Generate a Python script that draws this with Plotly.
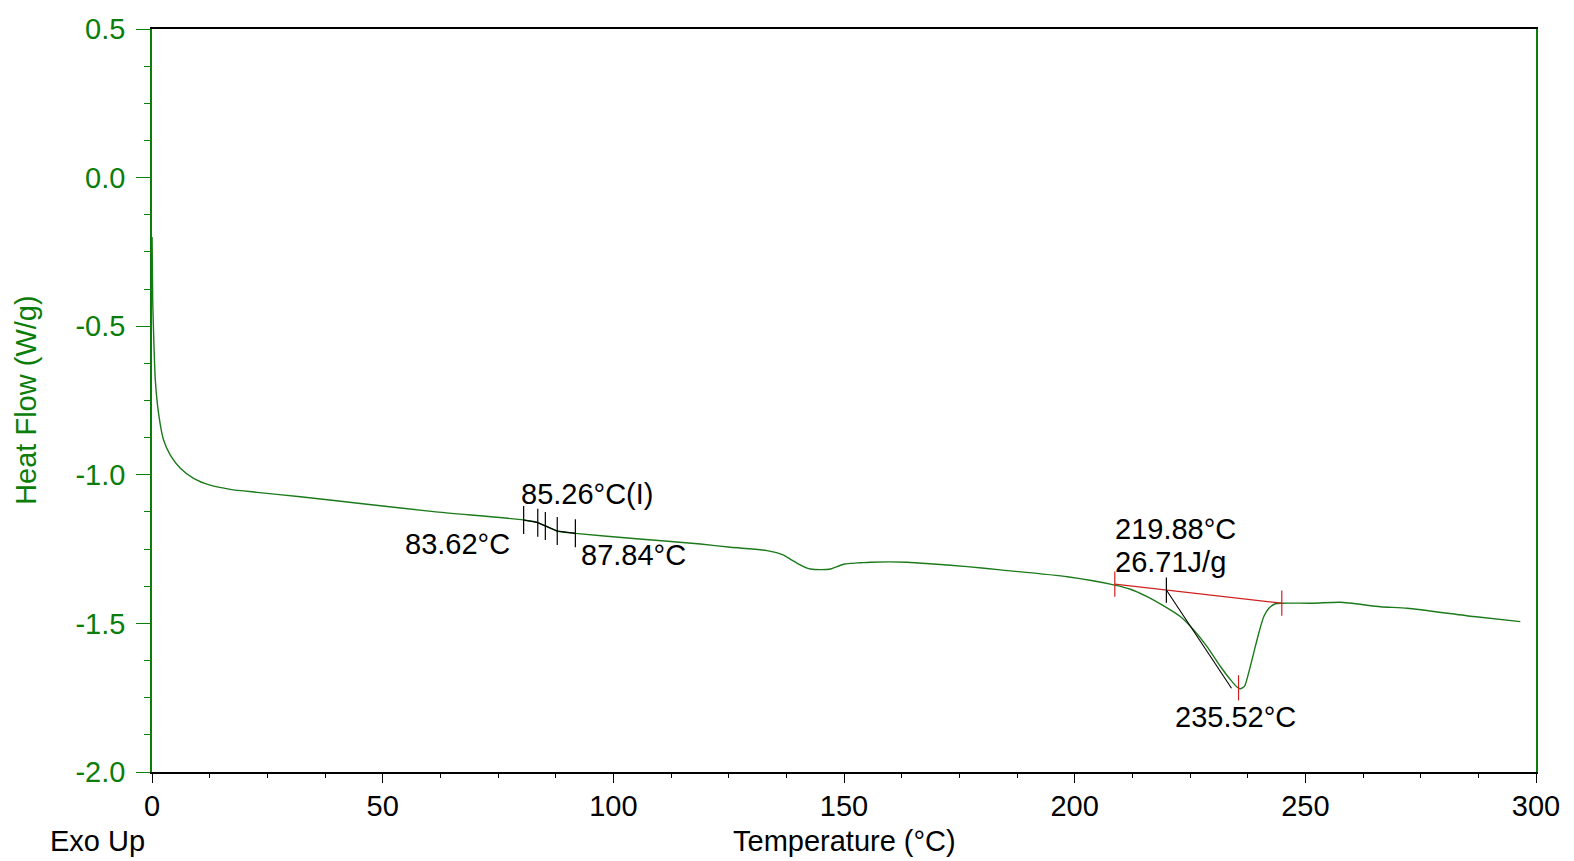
import numpy as np
import plotly.graph_objects as go

# DSC heat flow curve (temperature in °C, heat flow in W/g)
temp = [0.02, 0.15, 0.35, 0.72, 1.43, 2.51, 3.97, 6.14, 9.02, 12.6, 16.97, 22.76,
        32.15, 46.6, 61.05, 80.56, 83.47, 85.27, 87.8, 91.77, 105.0, 118.9, 125.4,
        133.3, 136.9, 138.7, 140.5, 142.0, 142.7, 145.0, 147.1, 148.5, 149.9, 151.4,
        153.6, 155.7, 163.7, 169.4, 176.7, 183.9, 198.4, 208.7, 212.1, 215.7, 219.3,
        222.9, 225.8, 228.7, 231.6, 233.8, 235.2, 235.9, 236.8, 237.7, 238.8, 239.9,
        241.0, 242.1, 243.5, 244.9, 251.8, 257.6, 266.3, 272.1, 286.5, 296.6]
heat_flow = [-0.20, -0.41, -0.525, -0.682, -0.794, -0.883, -0.934, -0.978, -1.012, -1.035,
             -1.049, -1.059, -1.074, -1.099, -1.124, -1.152, -1.160, -1.172, -1.189, -1.197,
             -1.215, -1.233, -1.244, -1.255, -1.270, -1.287, -1.303, -1.314, -1.317, -1.319,
             -1.317, -1.309, -1.301, -1.298, -1.296, -1.294, -1.294, -1.300, -1.309, -1.320,
             -1.343, -1.371, -1.385, -1.410, -1.441, -1.477, -1.522, -1.578, -1.645, -1.690,
             -1.714, -1.720, -1.712, -1.667, -1.600, -1.533, -1.477, -1.449, -1.434, -1.432,
             -1.432, -1.429, -1.444, -1.449, -1.477, -1.494]

# glass transition analysis markers
tg_marks = [80.56, 83.62, 85.26, 87.84, 91.77]
tg_range = [80.56, 91.77]

# melting peak analysis
base_x = [208.7, 244.9]
base_y = [-1.368, -1.432]
onset_x = 219.88
peak_x = 235.52
tangent_end = [234.0, -1.718]

x_ticks = [0, 50, 100, 150, 200, 250, 300]
y_ticks = [0.5, 0.0, -0.5, -1.0, -1.5, -2.0]
y_ticktext = ["0.5", "0.0", "-0.5", "-1.0", "-1.5", "-2.0"]

FONT = "Arial, Liberation Sans, sans-serif"
FS = 29
GREEN = "#0a7d0a"
LINE_GREEN = "#1b7a1b"
RED = "#d02020"

t = np.array(temp)
h = np.array(heat_flow)


def tick_marks(xs, ys, color, size):
    return go.Scatter(x=xs, y=ys, mode="markers", hoverinfo="skip",
                      marker=dict(symbol="line-ns-open", size=size, color=color,
                                  line=dict(color=color, width=1.2)))


fig = go.Figure()
fig.add_trace(go.Scatter(x=temp, y=heat_flow, mode="lines",
                         line=dict(color=LINE_GREEN, width=1.4, shape="spline", smoothing=0.6),
                         hoverinfo="skip"))

# black overlay over the analysed glass transition region
seg = (t >= tg_range[0]) & (t <= tg_range[1])
seg_x = [tg_range[0]] + list(t[seg]) + [tg_range[1]]
fig.add_trace(go.Scatter(x=seg_x, y=np.interp(seg_x, t, h), mode="lines",
                         line=dict(color="black", width=1.2), hoverinfo="skip"))
fig.add_trace(tick_marks(tg_marks, np.interp(tg_marks, t, h), "black", 20))

# baseline and integration markers
fig.add_trace(go.Scatter(x=base_x, y=base_y, mode="lines",
                         line=dict(color=RED, width=1.2), hoverinfo="skip"))
fig.add_trace(tick_marks(base_x, base_y, RED, 18))
onset_y = float(np.interp(onset_x, base_x, base_y))
fig.add_trace(go.Scatter(x=[onset_x, tangent_end[0]], y=[onset_y, tangent_end[1]],
                         mode="lines", line=dict(color="black", width=1.1),
                         hoverinfo="skip"))
fig.add_trace(tick_marks([onset_x], [onset_y], "black", 18))
fig.add_trace(tick_marks([peak_x], [float(np.interp(peak_x, t, h))], RED, 18))

labels = [
    (79.6, -1.065, "85.26°C(I)", "left"),
    (78.1, -1.233, "83.62°C", "right"),
    (92.6, -1.270, "87.84°C", "left"),
    (208.4, -1.182, "219.88°C", "left"),
    (208.4, -1.293, "26.71J/g", "left"),
    (221.4, -1.814, "235.52°C", "left"),
]
for lx, ly, txt, anchor in labels:
    fig.add_annotation(x=lx, y=ly, text=txt, showarrow=False, xanchor=anchor,
                       yanchor="middle", font=dict(family=FONT, size=FS, color="black"))

fig.add_annotation(x=0.5, y=-0.0935, xref="paper", yref="paper", text="Temperature (°C)",
                   showarrow=False, xanchor="center", yanchor="middle",
                   font=dict(family=FONT, size=FS, color="black"))
fig.add_annotation(x=-0.0395, y=-0.0935, xref="paper", yref="paper", text="Exo Up",
                   showarrow=False, xanchor="center", yanchor="middle",
                   font=dict(family=FONT, size=FS, color="black"))
fig.add_annotation(x=-0.0915, y=0.5, xref="paper", yref="paper", text="Heat Flow (W/g)",
                   showarrow=False, textangle=-90, xanchor="center", yanchor="middle",
                   font=dict(family=FONT, size=FS, color=GREEN))

# the page body adds an 8px offset, so the margins are shifted to compensate
fig.update_layout(
    width=1574, height=861,
    margin=dict(l=144, r=46, t=21, b=97, autoexpand=False),
    paper_bgcolor="white", plot_bgcolor="white",
    showlegend=False,
    font=dict(family=FONT),
)
fig.update_xaxes(range=[0, 300], tickvals=x_ticks, ticks="outside", ticklen=9,
                 tickcolor="black", tickwidth=1.2, ticklabelstandoff=-2,
                 minor=dict(dtick=12.5, ticks="outside", ticklen=4, tickcolor="black"),
                 showline=True, linecolor="black", linewidth=1.5, mirror=True,
                 showgrid=False, zeroline=False,
                 tickfont=dict(family=FONT, size=FS, color="black"))
fig.update_yaxes(range=[-2.0, 0.5], tickvals=y_ticks, ticktext=y_ticktext,
                 ticks="outside", ticklen=14, tickcolor=GREEN, tickwidth=1.2,
                 ticklabelstandoff=5,
                 minor=dict(dtick=0.125, tick0=0, ticks="outside", ticklen=6, tickcolor=GREEN),
                 showline=True, linecolor=GREEN, linewidth=1.5, mirror=True,
                 showgrid=False, zeroline=False,
                 tickfont=dict(family=FONT, size=FS, color=GREEN))

fig.write_html("out.html")
